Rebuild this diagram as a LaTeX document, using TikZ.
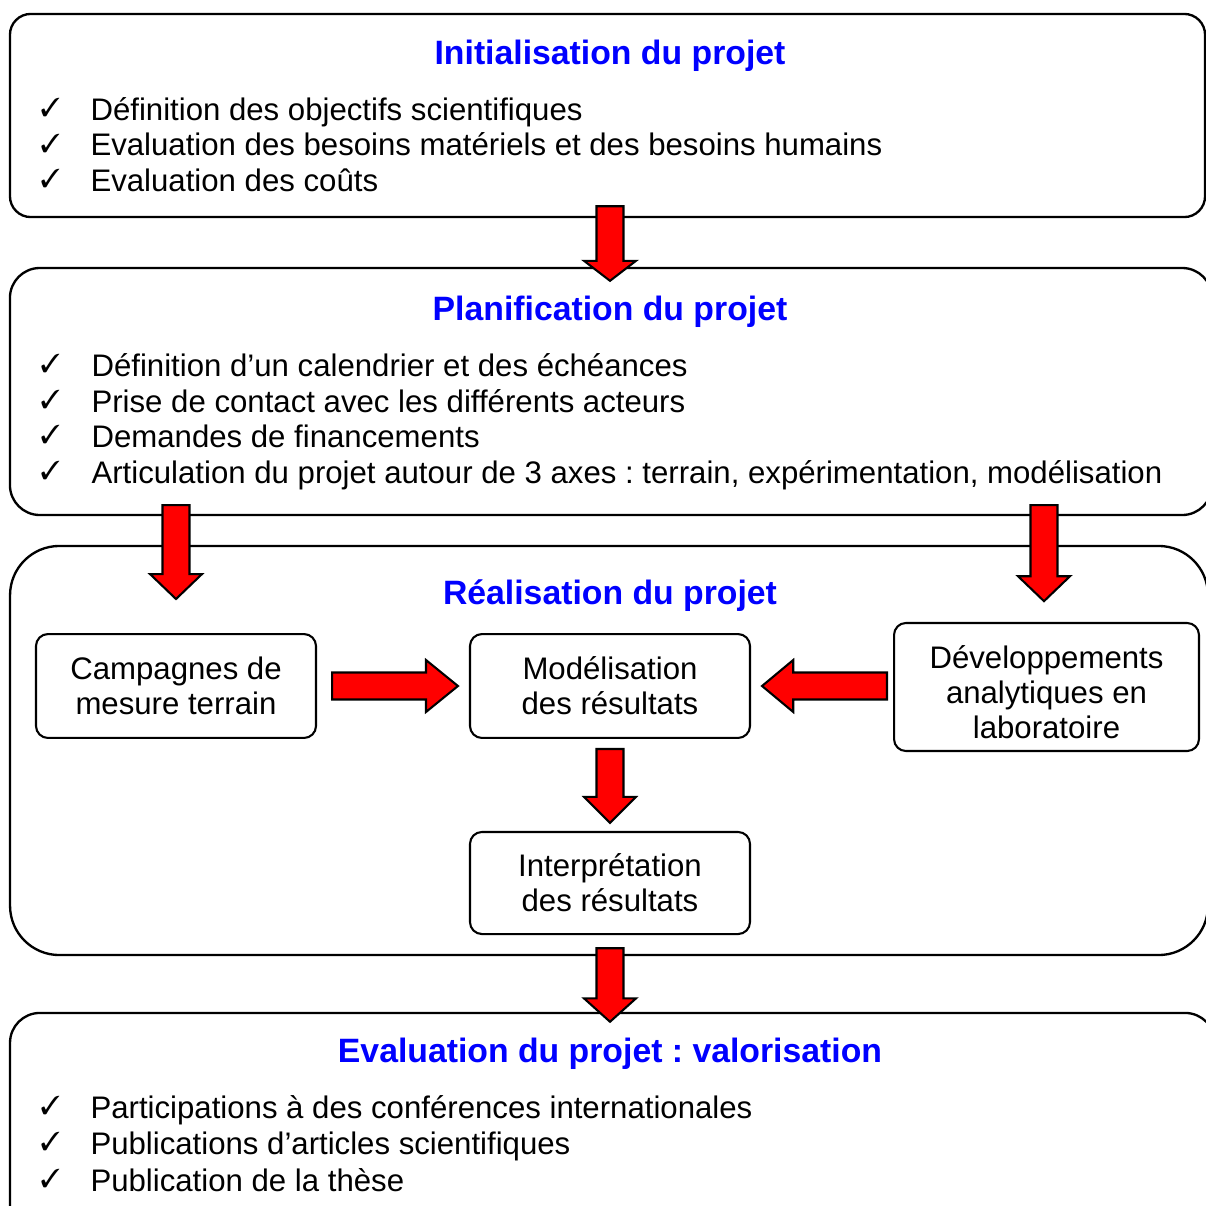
\documentclass[tikz,border=0pt]{standalone}
\usepackage{fontspec}
\setmainfont{Liberation Sans}
\usepackage{pifont}
\usetikzlibrary{positioning, calc}
\frenchspacing

\newcommand{\chk}{\makebox[19.25pt][l]{\fontsize{10}{12}\selectfont\raisebox{1.2pt}{\ding{51}}}}
\newcommand{\shaftw}{5.2pt}
\newcommand{\headw}{10pt}
% fat red arrow from #1 to #2, head length #3
\newcommand{\fatarrow}[3]{%
  \coordinate (fah) at ($(#2)!#3!(#1)$);
  \draw[bigarrow] ($(#1)!\shaftw!90:(#2)$) -- ($(fah)!\shaftw!90:(#2)$) -- ($(fah)!\headw!90:(#2)$)
    -- (#2) -- ($(fah)!\headw!-90:(#2)$) -- ($(fah)!\shaftw!-90:(#2)$) -- ($(#1)!\shaftw!-90:(#2)$) -- cycle;}

\begin{document}
\begin{tikzpicture}[x=0.385pt, y=-0.385pt]
        \tikzstyle{phase} = [rectangle, draw=black, line width=0.9pt, inner sep=0pt]
        \tikzstyle{title} = [anchor=base, inner sep=0pt, text=blue, font=\fontsize{13}{15}\selectfont\bfseries]
        \tikzstyle{item} = [anchor=base west, inner sep=0pt, font=\fontsize{12}{14}\selectfont]
        \tikzstyle{task} = [rectangle, rounded corners=4.6pt, draw=black, line width=0.8pt, align=center, inner sep=0pt, font=\fontsize{12}{13.5}\selectfont]
        \tikzstyle{bigarrow} = [draw=black, fill=red, line width=0.8pt, line join=miter]

        \useasboundingbox (0,0) rectangle (1205,1206);

        % Phases
        \node (init) [phase, rounded corners=8pt, minimum width=460.1pt, minimum height=78.2pt] at (607.5,115.5) {};
        \node (plan) [phase, rounded corners=11.5pt, minimum width=462.8pt, minimum height=95.1pt] at (611,391.5) {};
        \node (real) [phase, rounded corners=19pt, minimum width=461.2pt, minimum height=157.5pt] at (609,750.5) {};
        \node (eval) [phase, rounded corners=11.5pt, minimum width=463.9pt, minimum height=88.6pt] at (612.5,1128) {};

        % Titles
        \node (inittitle) [title] at (610,64) {Initialisation du projet};
        \node (plantitle) [title] at (610,320) {Planification du projet};
        \node (realtitle) [title] at (610,604) {Réalisation du projet};
        \node (evaltitle) [title] at (610,1062) {Evaluation du projet : valorisation};

        % Initialisation
        \node (init1) [item] at (40,120) {\chk Définition des objectifs scientifiques};
        \node (init2) [item] at (40,155.5) {\chk Evaluation des besoins matériels et des besoins humains};
        \node (init3) [item] at (40,191) {\chk Evaluation des coûts};

        % Planification
        \node (plan1) [item] at (40,376) {\chk \hspace{0.4pt}Définition d’un calendrier et des échéances};
        \node (plan2) [item] at (40,412) {\chk \hspace{0.4pt}Prise de contact avec les différents acteurs};
        \node (plan3) [item] at (40,447) {\chk \hspace{0.4pt}Demandes de financements};
        \node (plan4) [item] at (40,483) {\chk \hspace{0.4pt}Articulation du projet autour de 3 axes : terrain, expérimentation, modélisation};

        % Realisation
        \node (camp) [task, minimum width=107.8pt, minimum height=40pt] at (176,686) {Campagnes de\\mesure terrain};
        \node (mod) [task, minimum width=107.8pt, minimum height=40pt] at (610,686) {Modélisation\\des résultats};
        \node (dev) [task, minimum width=117.4pt, minimum height=49.3pt] at (1046.5,687) {\raisebox{-1.9pt}[\height][\depth]{\parbox{117pt}{\centering Développements\\analytiques en\\laboratoire}}};
        \node (interp) [task, minimum width=107.8pt, minimum height=39.3pt] at (610,883) {Interprétation\\des résultats};

        % Evaluation
        \node (eval1) [item] at (40,1118) {\chk Participations à des conférences internationales};
        \node (eval2) [item] at (40,1154) {\chk Publications d’articles scientifiques};
        \node (eval3) [item] at (40,1191) {\chk Publication de la thèse};

        % Arrows
        \coordinate (a1s) at ($(init.south -| inittitle.south)+(0,-12)$);
        \coordinate (a1e) at ($(plan.north -| inittitle.south)+(0,14)$);
        \coordinate (a2s) at ($(plan.south -| camp.north)+(0,-11)$);
        \coordinate (a2e) at ($(camp.north)+(0,-34)$);
        \coordinate (a3s) at ($(plan.south)+(433,-11)$);
        \coordinate (a3e) at ($(a3s)+(0,96)$);
        \coordinate (a4s) at ($(camp.east)+(15,0)$);
        \coordinate (a4e) at ($(mod.west)+(-11,0)$);
        \coordinate (a5s) at ($(dev.west |- mod.east)+(-6,0)$);
        \coordinate (a5e) at ($(mod.east)+(11,0)$);
        \coordinate (a6s) at ($(mod.south)+(0,10)$);
        \coordinate (a6e) at ($(interp.north)+(0,-8)$);
        \coordinate (a7s) at ($(real.south -| mod.south)+(0,-8)$);
        \coordinate (a7e) at ($(eval.north -| mod.south)+(0,10)$);

        \fatarrow{a1s}{a1e}{7.7pt}
        \fatarrow{a2s}{a2e}{9.6pt}
        \fatarrow{a3s}{a3e}{9.6pt}
        \fatarrow{a4s}{a4e}{12.3pt}
        \fatarrow{a5s}{a5e}{12pt}
        \fatarrow{a6s}{a6e}{10pt}
        \fatarrow{a7s}{a7e}{9pt}
\end{tikzpicture}
\end{document}
